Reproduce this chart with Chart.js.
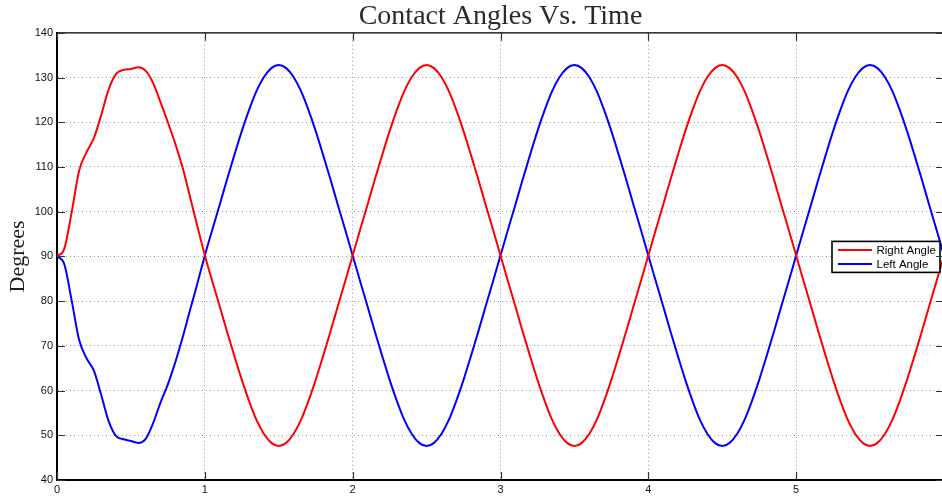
<!DOCTYPE html>
<html>
<head>
<meta charset="utf-8">
<script src="https://cdn.jsdelivr.net/npm/chart.js@4/dist/chart.umd.min.js"></script>
<style>
html, body { margin: 0; padding: 0; background: #fff; overflow: hidden; }
#wrap { width: 946px; height: 496px; position: relative; }
</style>
</head>
<body>
<div id="wrap"><canvas id="c"></canvas></div>
<script>
const timeValues = [
  0.00,0.05,0.10,0.15,0.20,0.25,0.30,0.35,0.40,0.45,0.50,0.55,0.60,0.65,0.70,0.75,0.80,0.85,0.90,0.95,
  1.00,1.05,1.10,1.15,1.20,1.25,1.30,1.35,1.40,1.45,1.50,1.55,1.60,1.65,1.70,1.75,1.80,1.85,1.90,1.95,
  2.00,2.05,2.10,2.15,2.20,2.25,2.30,2.35,2.40,2.45,2.50,2.55,2.60,2.65,2.70,2.75,2.80,2.85,2.90,2.95,
  3.00,3.05,3.10,3.15,3.20,3.25,3.30,3.35,3.40,3.45,3.50,3.55,3.60,3.65,3.70,3.75,3.80,3.85,3.90,3.95,
  4.00,4.05,4.10,4.15,4.20,4.25,4.30,4.35,4.40,4.45,4.50,4.55,4.60,4.65,4.70,4.75,4.80,4.85,4.90,4.95,
  5.00,5.05,5.10,5.15,5.20,5.25,5.30,5.35,5.40,5.45,5.50,5.55,5.60,5.65,5.70,5.75,5.80,5.85,5.90,5.95,
  6.00
];

const rightAngle = [
  90,91.8,100,109.2,113.3,116.5,121.7,127.4,130.8,131.7,131.9,132.3,131.5,128.8,124.5,120,115.2,109.8,103.3,96.7,
  90.2,84.5,78.9,73.2,67.7,62.4,57.6,53.4,50.3,48.3,47.6,48.3,50.3,53.4,57.6,62.4,67.7,73.2,78.9,84.5,
  90.2,95.9,101.5,107.2,112.7,118.0,122.8,127.0,130.1,132.1,132.8,132.1,130.1,127.0,122.8,118.0,112.7,107.2,101.5,95.9,
  90.2,84.5,78.9,73.2,67.7,62.4,57.6,53.4,50.3,48.3,47.6,48.3,50.3,53.4,57.6,62.4,67.7,73.2,78.9,84.5,
  90.2,95.9,101.5,107.2,112.7,118.0,122.8,127.0,130.1,132.1,132.8,132.1,130.1,127.0,122.8,118.0,112.7,107.2,101.5,95.9,
  90.2,84.5,78.9,73.2,67.7,62.4,57.6,53.4,50.3,48.3,47.6,48.3,50.3,53.4,57.6,62.4,67.7,73.2,78.9,84.5,
  90.2
];

const leftAngle = [
  90,88.2,80,71.3,67.2,64.4,58.9,53.1,49.8,49.1,48.7,48.3,49.2,52.7,57.3,61.4,66.3,71.9,78,84,
  90.2,95.9,101.5,107.2,112.7,118.0,122.8,127.0,130.1,132.1,132.8,132.1,130.1,127.0,122.8,118.0,112.7,107.2,101.5,95.9,
  90.2,84.5,78.9,73.2,67.7,62.4,57.6,53.4,50.3,48.3,47.6,48.3,50.3,53.4,57.6,62.4,67.7,73.2,78.9,84.5,
  90.2,95.9,101.5,107.2,112.7,118.0,122.8,127.0,130.1,132.1,132.8,132.1,130.1,127.0,122.8,118.0,112.7,107.2,101.5,95.9,
  90.2,84.5,78.9,73.2,67.7,62.4,57.6,53.4,50.3,48.3,47.6,48.3,50.3,53.4,57.6,62.4,67.7,73.2,78.9,84.5,
  90.2,95.9,101.5,107.2,112.7,118.0,122.8,127.0,130.1,132.1,132.8,132.1,130.1,127.0,122.8,118.0,112.7,107.2,101.5,95.9,
  90.2
];

const xTickValues = [0, 1, 2, 3, 4, 5];
const yTickValues = [40, 50, 60, 70, 80, 90, 100, 110, 120, 130, 140];
const seriesLabels = ['Right Angle', 'Left Angle'];
const titleText = 'Contact Angles Vs. Time';
const yAxisLabel = 'Degrees';

const toPoints = (arr) => arr.map((v, i) => ({ x: timeValues[i], y: v }));

const framePlugin = {
  id: 'frame',
  afterDraw(chart) {
    const { ctx, chartArea: a, scales } = chart;
    ctx.save();
    ctx.strokeStyle = '#000';
    ctx.lineWidth = 1.3;
    ctx.beginPath();
    ctx.moveTo(a.left, a.top); ctx.lineTo(a.right, a.top);
    ctx.moveTo(a.right, a.top); ctx.lineTo(a.right, a.bottom);
    ctx.stroke();
    const L = 8;
    ctx.strokeStyle = '#333';
    ctx.lineWidth = 1.2;
    ctx.beginPath();
    scales.x.ticks.forEach(t => {
      const px = Math.round(scales.x.getPixelForValue(t.value)) + 0.5;
      ctx.moveTo(px, a.bottom); ctx.lineTo(px, a.bottom - L);
      ctx.moveTo(px, a.top); ctx.lineTo(px, a.top + L);
    });
    scales.y.ticks.forEach(t => {
      const py = Math.round(scales.y.getPixelForValue(t.value)) + 0.5;
      ctx.moveTo(a.left, py); ctx.lineTo(a.left + L, py);
      ctx.moveTo(a.right, py); ctx.lineTo(a.right - L, py);
    });
    ctx.stroke();
    ctx.restore();
  }
};

const boxLegendPlugin = {
  id: 'boxLegend',
  afterDatasetsDraw(chart) {
    const { ctx, chartArea: a } = chart;
    const ys = chart.scales.y;
    const right = a.right - 4;
    const left = right - 108;
    const cy = ys.getPixelForValue(90);
    const top = cy - 15, h = 31;
    ctx.save();
    ctx.fillStyle = '#fff';
    ctx.fillRect(left, top, right - left, h);
    ctx.strokeStyle = '#000';
    ctx.lineWidth = 1.6;
    ctx.strokeRect(left, top, right - left, h);
    ctx.font = '11.5px "Liberation Sans", Arial, sans-serif';
    ctx.textBaseline = 'middle';
    ctx.textAlign = 'left';
    chart.data.datasets.forEach((ds, i) => {
      const y = top + 8.5 + i * 14;
      ctx.strokeStyle = ds.borderColor;
      ctx.lineWidth = 2;
      ctx.beginPath();
      ctx.moveTo(left + 6, y); ctx.lineTo(left + 40, y);
      ctx.stroke();
      ctx.fillStyle = '#000';
      ctx.fillText(ds.label, left + 44.5, y + 0.5);
    });
    ctx.restore();
  }
};

new Chart(document.getElementById('c'), {
  type: 'line',
  data: {
    datasets: [
      { label: seriesLabels[0], data: toPoints(rightAngle), borderColor: '#ff0000', borderWidth: 2, pointRadius: 0, cubicInterpolationMode: 'monotone', fill: false },
      { label: seriesLabels[1], data: toPoints(leftAngle), borderColor: '#0000ff', borderWidth: 2, pointRadius: 0, cubicInterpolationMode: 'monotone', fill: false }
    ]
  },
  options: {
    responsive: true,
    maintainAspectRatio: false,
    animation: false,
    devicePixelRatio: 1,
    layout: { padding: { left: 0, right: 2, top: 0, bottom: 0 } },
    plugins: {
      legend: { display: false },
      tooltip: { enabled: false },
      title: {
        display: true,
        text: titleText,
        fullSize: false,
        color: '#2a2a2a',
        font: { family: '"Liberation Serif", "Times New Roman", serif', size: 28, weight: 'normal', lineHeight: 1.1 },
        padding: { top: 1, bottom: 1 }
      }
    },
    scales: {
      x: {
        type: 'linear',
        min: 0, max: 6,
        afterBuildTicks: (s) => { s.ticks = xTickValues.map(v => ({ value: v })); },
        afterFit: (s) => { s.height = 16; },
        grid: { color: '#999', lineWidth: 1, drawTicks: false },
        border: { display: true, color: '#000', width: 2, dash: [1, 3] },
        ticks: { color: '#111', padding: 3, maxRotation: 0, font: { family: '"Liberation Sans", Arial, sans-serif', size: 11 } }
      },
      y: {
        type: 'linear',
        min: 40, max: 140,
        afterBuildTicks: (s) => { s.ticks = yTickValues.map(v => ({ value: v })); },
        afterFit: (s) => { s.width = 57; },
        grid: { color: '#999', lineWidth: 1, drawTicks: false },
        border: { display: true, color: '#000', width: 2, dash: [1, 3] },
        ticks: { color: '#111', padding: 4, font: { family: '"Liberation Sans", Arial, sans-serif', size: 11 } },
        title: {
          display: true,
          text: yAxisLabel,
          color: '#1a1a1a',
          font: { family: '"Liberation Serif", "Times New Roman", serif', size: 22, weight: 'normal', lineHeight: 1.2 },
          padding: { top: 5, bottom: 0 }
        }
      }
    }
  },
  plugins: [framePlugin, boxLegendPlugin]
});
</script>
</body>
</html>
